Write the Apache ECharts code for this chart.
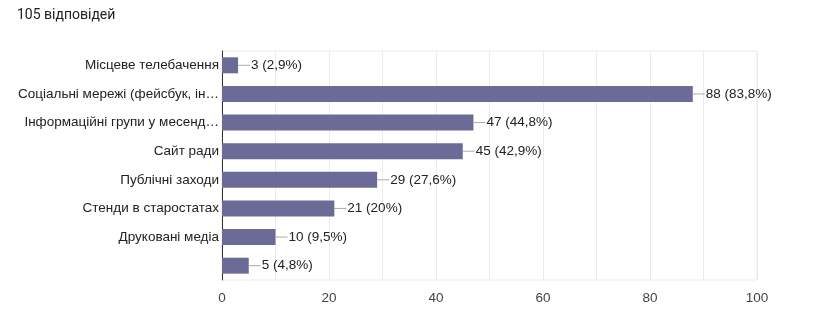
<!DOCTYPE html>
<html><head><meta charset="utf-8">
<script src="https://cdn.jsdelivr.net/npm/echarts@6/dist/echarts.min.js"></script>
<style>html,body{margin:0;padding:0;background:#fff}#c{width:836px;height:333px}</style>
</head><body><div id="c"></div>
<script>
const title = '105 відповідей';
const categories = ['Місцеве телебачення','Соціальні мережі (фейсбук, ін…','Інформаційні групи у месенд…','Сайт ради','Публічні заходи','Стенди в старостатах','Друковані медіа',''];
const values = [3, 88, 47, 45, 29, 21, 10, 5];
const percents = ['2,9%','83,8%','44,8%','42,9%','27,6%','20%','9,5%','4,8%'];

const chart = echarts.init(document.getElementById('c'), null, {renderer:'canvas'});
chart.setOption({
  animation:false,
  title:{text:title,left:12,top:3,textStyle:{fontFamily:'Roboto',fontSize:14,fontWeight:'normal',color:'#222'}},
  grid:{left:222,right:79,top:51,bottom:53,show:true,borderColor:'#ebebeb',borderWidth:1},
  xAxis:{type:'value',min:0,max:100,interval:20,
    axisLine:{show:false},axisTick:{show:false},
    axisLabel:{fontFamily:'Arial',fontSize:13.5,color:'#444',margin:11},
    splitLine:{lineStyle:{color:'#ebebeb'}},
    minorTick:{show:false,splitNumber:2},
    minorSplitLine:{show:true,lineStyle:{color:'#ebebeb'}}},
  yAxis:{type:'category',data:categories,inverse:true,
    axisLine:{show:true,lineStyle:{color:'#333',width:1}},axisTick:{show:false},
    axisLabel:{fontFamily:'Arial',fontSize:13.5,color:'#222',margin:3}},
  series:[{type:'bar',data:values,barWidth:16,itemStyle:{color:'#6c6a96'},
    label:{show:true,position:'right',distance:0,
      formatter:p=>'{l|}{t|'+values[p.dataIndex]+' ('+percents[p.dataIndex]+')}',
      rich:{l:{width:12,height:1,backgroundColor:'#aaa'},t:{fontFamily:'Arial',fontSize:13.5,color:'#222',padding:[0,0,0,1]}}}}]
});
</script></body></html>
